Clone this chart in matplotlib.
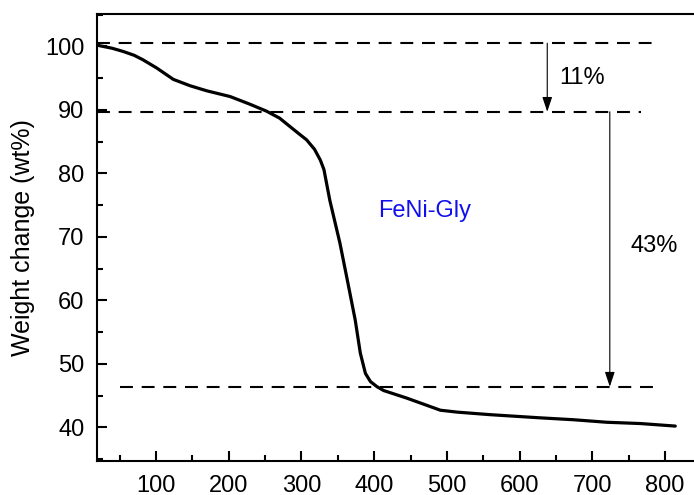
import numpy as np
import matplotlib
matplotlib.use('Agg')
import matplotlib.pyplot as plt
from matplotlib.ticker import MultipleLocator

plt.rcParams['font.family'] = ['Liberation Sans', 'DejaVu Sans']

# TGA curve of FeNi-Gly (temperature in C, remaining mass in wt%)
temp = [19, 23, 40, 55, 70, 82, 101, 124, 147, 170, 202, 229, 252, 270, 284,
        297, 307, 318, 326, 331, 339, 353, 364, 374, 381, 388, 395, 404, 413,
        445, 491, 514, 559, 628, 674, 720, 766, 814]
weight = [100.3, 100.1, 99.7, 99.2, 98.6, 97.9, 96.6, 94.8, 93.8, 93.0, 92.1,
          90.9, 89.8, 88.7, 87.4, 86.2, 85.3, 83.8, 82.1, 80.6, 75.8, 69.0,
          62.7, 56.9, 51.7, 48.5, 47.2, 46.4, 45.8, 44.6, 42.7, 42.4, 42.0,
          41.5, 41.2, 40.8, 40.6, 40.2]

# reference levels and mass losses between them
levels = [100.5, 89.7, 46.4]
level_spans = [(19, 790), (19, 767), (50, 790)]
loss_labels = ['11%', '43%']
arrow_x = [638, 724]
label_pos = [(655, 95.0), (752, 68.5)]

fig = plt.figure(figsize=(6.94, 4.95), dpi=100)
ax = fig.add_axes([97 / 694, 34 / 495, 603 / 694, 447 / 495])

ax.plot(temp, weight, color='black', lw=2.3, solid_capstyle='round',
        solid_joinstyle='round')

for lev, (x0, x1) in zip(levels, level_spans):
    ax.plot([x0, x1], [lev, lev], color='black', lw=1.5, dashes=(6.2, 4.2))

for i, lab in enumerate(loss_labels):
    ax.annotate('', xy=(arrow_x[i], levels[i + 1]), xytext=(arrow_x[i], levels[i]),
                arrowprops=dict(arrowstyle='-|>,head_length=0.45,head_width=0.15',
                                mutation_scale=20, lw=0.8, color='black',
                                shrinkA=0, shrinkB=0))
    ax.text(label_pos[i][0], label_pos[i][1], lab, fontsize=17, va='center', ha='left')

ax.text(405, 74.1, 'FeNi-Gly', color='#1010ee', fontsize=17, va='center', ha='left')

ax.set_xlim(19, 848)
ax.set_ylim(34.7, 105.1)
ax.xaxis.set_major_locator(MultipleLocator(100))
ax.xaxis.set_minor_locator(MultipleLocator(50))
ax.yaxis.set_major_locator(MultipleLocator(10))
ax.yaxis.set_minor_locator(MultipleLocator(5))
ax.tick_params(which='both', direction='in', width=1.5, labelsize=17)
ax.tick_params(which='major', length=7)
ax.tick_params(which='minor', length=4)
ax.tick_params(axis='x', pad=10)
ax.tick_params(axis='y', pad=9)
for s in ax.spines.values():
    s.set_linewidth(1.5)

ax.set_ylabel('Weight change (wt%)', fontsize=18, labelpad=7)

fig.savefig('out.png', dpi=100)
